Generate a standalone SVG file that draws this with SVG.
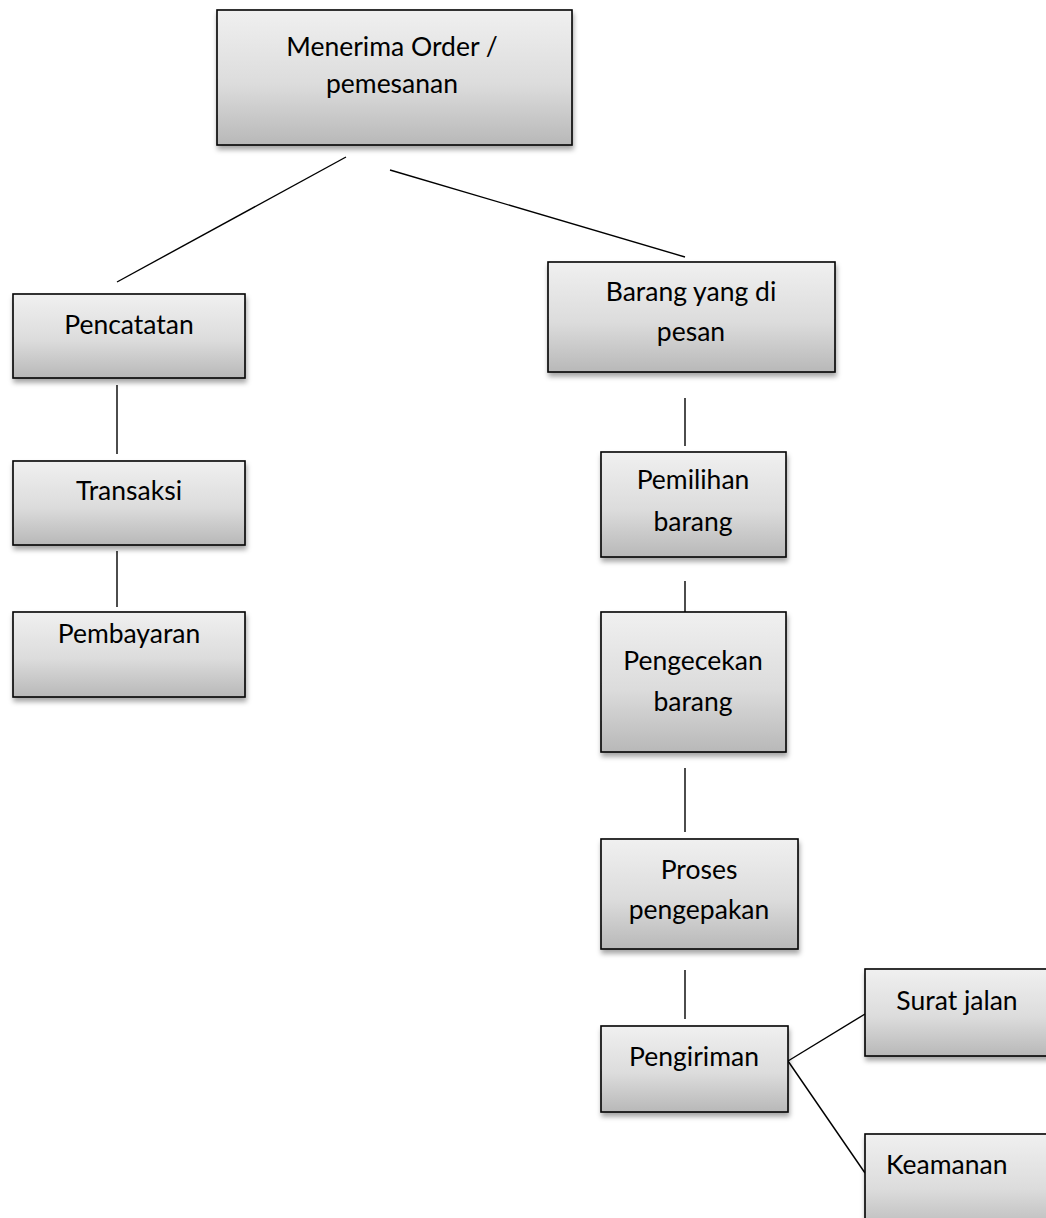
<svg xmlns="http://www.w3.org/2000/svg" width="1046" height="1218" viewBox="0 0 1046 1218">
  <style>
    .box { fill: url(#boxFill); stroke: #000; stroke-width: 1.6; filter: url(#shadow); }
    .lbl { font-family: Lato, "Open Sans", "Liberation Sans", sans-serif; font-size: 26.5px; fill: #000; text-anchor: middle; }
    .lbl.start { text-anchor: start; }
    .link { stroke: #000; stroke-width: 1.4; fill: none; }
  </style>
  <defs>
    <linearGradient id="boxFill" x1="0" y1="0" x2="0" y2="1">
      <stop offset="0" stop-color="#f0f0f0"/>
      <stop offset="0.55" stop-color="#dcdcdc"/>
      <stop offset="1" stop-color="#b8b8b8"/>
    </linearGradient>
    <filter id="shadow" x="-10%" y="-10%" width="130%" height="140%">
      <feDropShadow dx="1" dy="4" stdDeviation="2.5" flood-color="#000" flood-opacity="0.35"/>
    </filter>
  </defs>
  <rect width="1046" height="1218" fill="#fff"/>

  <g id="connectors">
    <line class="link" x1="346" y1="157" x2="117" y2="282"/>
    <line class="link" x1="390" y1="170" x2="685" y2="257"/>
    <line class="link" x1="117" y1="385" x2="117" y2="454"/>
    <line class="link" x1="117" y1="551" x2="117" y2="607"/>
    <line class="link" x1="685" y1="398" x2="685" y2="446"/>
    <line class="link" x1="685" y1="581" x2="685" y2="628"/>
    <line class="link" x1="685" y1="768" x2="685" y2="832"/>
    <line class="link" x1="685" y1="970" x2="685" y2="1019"/>
    <line class="link" x1="788" y1="1061" x2="865" y2="1014"/>
    <line class="link" x1="788" y1="1061" x2="865" y2="1173"/>
  </g>

  <g id="node-order">
    <rect class="box" x="217" y="10" width="355" height="135"/>
    <text class="lbl" x="392" y="56">Menerima Order /</text>
    <text class="lbl" x="392" y="93">pemesanan</text>
  </g>

  <g id="node-pencatatan">
    <rect class="box" x="13" y="294" width="232" height="84"/>
    <text class="lbl" x="129" y="334">Pencatatan</text>
  </g>

  <g id="node-transaksi">
    <rect class="box" x="13" y="461" width="232" height="84"/>
    <text class="lbl" x="129" y="500">Transaksi</text>
  </g>

  <g id="node-pembayaran">
    <rect class="box" x="13" y="612" width="232" height="85"/>
    <text class="lbl" x="129" y="643">Pembayaran</text>
  </g>

  <g id="node-barang">
    <rect class="box" x="548" y="262" width="287" height="110"/>
    <text class="lbl" x="691" y="301">Barang yang di</text>
    <text class="lbl" x="691" y="341">pesan</text>
  </g>

  <g id="node-pemilihan">
    <rect class="box" x="601" y="452" width="185" height="105"/>
    <text class="lbl" x="693" y="489">Pemilihan</text>
    <text class="lbl" x="693" y="531">barang</text>
  </g>

  <g id="node-pengecekan">
    <rect class="box" x="601" y="612" width="185" height="140"/>
    <text class="lbl" x="693" y="670">Pengecekan</text>
    <text class="lbl" x="693" y="711">barang</text>
  </g>

  <g id="node-pengepakan">
    <rect class="box" x="601" y="839" width="197" height="110"/>
    <text class="lbl" x="699" y="879">Proses</text>
    <text class="lbl" x="699" y="919">pengepakan</text>
  </g>

  <g id="node-pengiriman">
    <rect class="box" x="601" y="1026" width="187" height="86"/>
    <text class="lbl" x="694" y="1066">Pengiriman</text>
  </g>

  <g id="node-surat-jalan">
    <rect class="box" x="865" y="969" width="200" height="87"/>
    <text class="lbl" x="957" y="1010">Surat jalan</text>
  </g>

  <g id="node-keamanan">
    <rect class="box" x="865" y="1134" width="200" height="100"/>
    <text class="lbl start" x="886" y="1174">Keamanan</text>
  </g>
</svg>
